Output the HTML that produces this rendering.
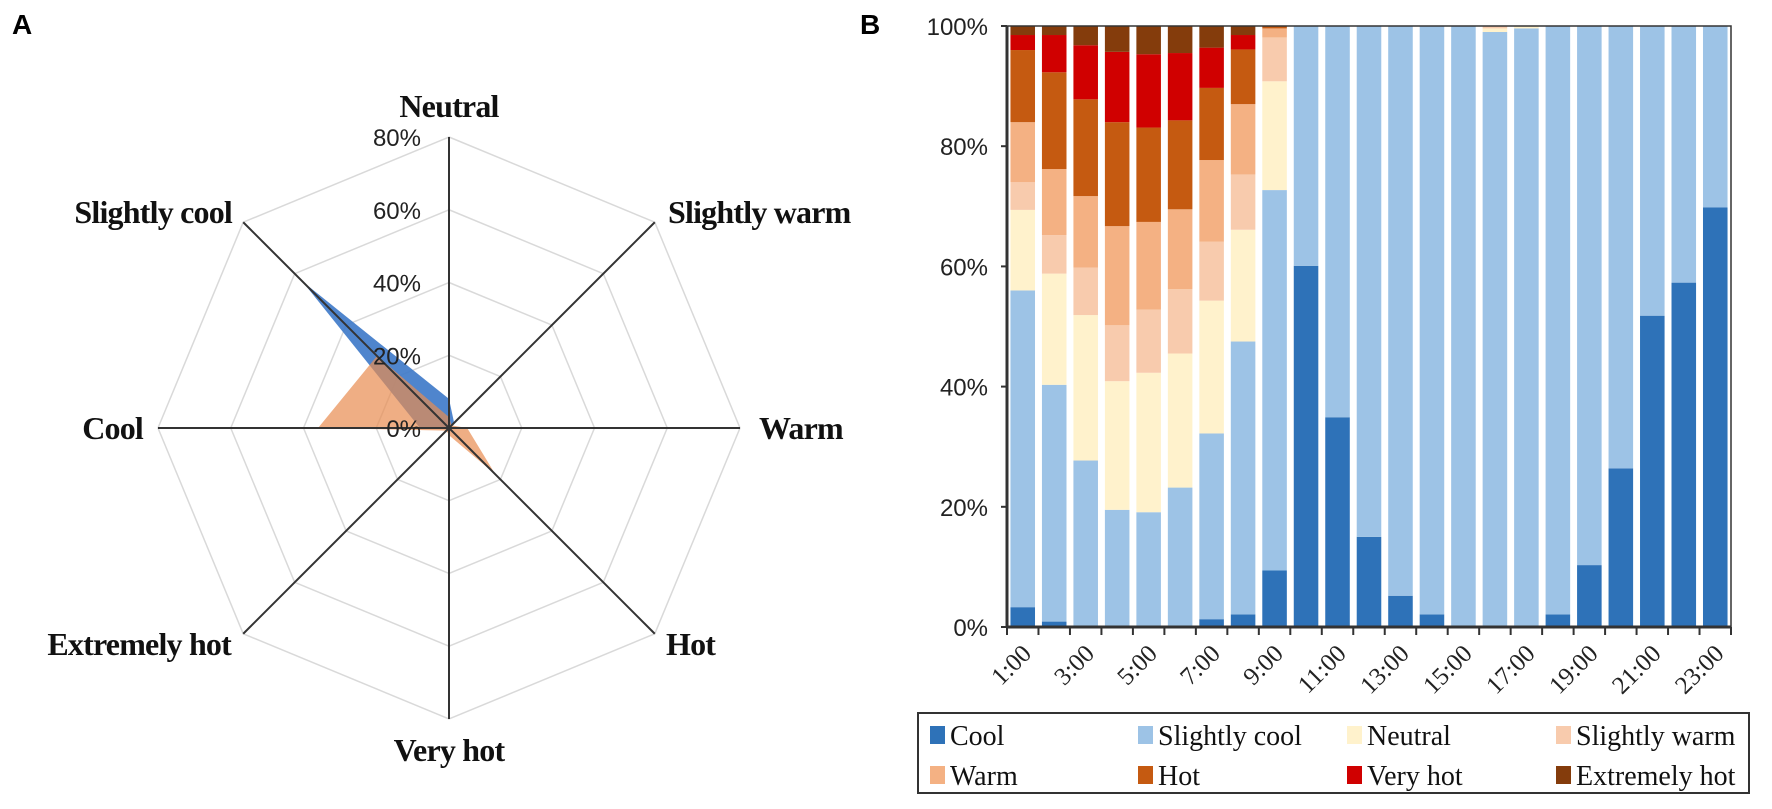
<!DOCTYPE html>
<html><head><meta charset="utf-8"><style>
html,body{margin:0;padding:0;background:#fff;}
svg{display:block;}
.lab{font-family:"Liberation Serif",serif;font-weight:bold;font-size:32px;fill:#111;letter-spacing:-0.8px;}
.tk{font-family:"Liberation Sans",sans-serif;font-size:24px;fill:#222;}
.xl{font-family:"Liberation Serif",serif;font-size:25px;fill:#222;}
.lg{font-family:"Liberation Serif",serif;font-size:28px;fill:#111;}
.pl{font-family:"Liberation Sans",sans-serif;font-weight:bold;font-size:28px;fill:#000;}
</style></head><body>
<svg id="fig" width="1772" height="809" viewBox="0 0 1772 809" xmlns="http://www.w3.org/2000/svg">
<text class="pl" x="12" y="34">A</text>
<text class="pl" x="860" y="34">B</text>
<g id="radar"></g>
<g id="bars"></g>
</svg>
<script>
const NS="http://www.w3.org/2000/svg";
function mk(tag,attrs,parent,txt){const e=document.createElementNS(NS,tag);for(const k in attrs)e.setAttribute(k,attrs[k]);if(txt!==undefined)e.textContent=txt;parent.appendChild(e);return e;}

// ---------- Radar data ----------
const radarAxes=["Neutral","Slightly warm","Warm","Hot","Very hot","Extremely hot","Cool","Slightly cool"];
const radarTicks=["0%","20%","40%","60%","80%"];
const radarBlue=[8,2,0,0,0,0,8,57];
const radarOrange=[3,1,5,18,2,1,36,28];

const R=document.getElementById('radar');
const cx=449,cy=428,rmax=291,vmax=80;
function rad(i){return -Math.PI/2+i*Math.PI/4;}
function rpt(i,v){const r=v/vmax*rmax;return [cx+r*Math.cos(rad(i)),cy+r*Math.sin(rad(i))];}
for(let k=1;k<=4;k++){
  const pts=radarAxes.map((_,i)=>rpt(i,k*20).join(',')).join(' ');
  const g=mk('polygon',{points:pts,fill:'none',stroke:'#d9d9d9','stroke-width':1.5},R);
  
  
}
const pb=mk('polygon',{points:radarBlue.map((v,i)=>rpt(i,v).join(',')).join(' '),fill:'rgba(60,120,200,0.9)'},R);


const po=mk('polygon',{points:radarOrange.map((v,i)=>rpt(i,v).join(',')).join(' '),fill:'rgba(232,140,80,0.7)'},R);


radarAxes.forEach((n,i)=>{
  const p=rpt(i,vmax);
  const l=mk('line',{x1:cx,y1:cy,x2:p[0],y2:p[1],stroke:'#333','stroke-width':2},R);
  
  
});
const labPos=[[449,117,'middle'],[668,223,'start'],[759,439,'start'],[666,655,'start'],[449,761,'middle'],[231,655,'end'],[143,439,'end'],[232,223,'end']];
radarAxes.forEach((n,i)=>{
  const t=mk('text',{class:'lab',x:labPos[i][0],y:labPos[i][1],'text-anchor':labPos[i][2]},R,n);
  
  
});
radarTicks.forEach((s,k)=>{
  const t=mk('text',{class:'tk',x:421,y:cy-k*20/vmax*rmax+9,'text-anchor':'end'},R,s);
  
  
});

// ---------- Bar data ----------
const hours=["1:00","2:00","3:00","4:00","5:00","6:00","7:00","8:00","9:00","10:00","11:00","12:00","13:00","14:00","15:00","16:00","17:00","18:00","19:00","20:00","21:00","22:00","23:00"];
const seriesNames=["Cool","Slightly cool","Neutral","Slightly warm","Warm","Hot","Very hot","Extremely hot"];
const seriesColors=["#2e72b8","#9dc3e6","#fff2cc","#f8cbad","#f4b183","#c55a11","#d00000","#843c0c"];
const cool=[3.3,0.9,0,0,0,0,1.3,2.1,9.4,60.1,34.9,15,5.2,2.1,0,0,0,2.1,10.3,26.4,51.8,57.3,69.8];
const slightlyCool=[52.7,39.4,27.7,19.5,19.1,23.2,30.9,45.4,63.3,39.9,65.1,85,94.8,97.9,100,99,99.6,97.9,89.7,73.6,48.2,42.7,30.2];
const neutral=[13.4,18.5,24.2,21.4,23.2,22.3,22.1,18.6,18.1,0,0,0,0,0,0,0.6,0.4,0,0,0,0,0,0];
const slightlyWarm=[4.6,6.4,7.9,9.3,10.5,10.7,9.8,9.2,7.3,0,0,0,0,0,0,0.4,0,0,0,0,0,0,0];
const warm=[10,11,11.9,16.5,14.6,13.3,13.6,11.7,1.5,0,0,0,0,0,0,0,0,0,0,0,0,0,0];
const hot=[12,16.1,16.1,17.3,15.7,14.8,12,9.1,0.4,0,0,0,0,0,0,0,0,0,0,0,0,0,0];
const veryHot=[2.5,6.2,9,11.7,12.2,11.2,6.7,2.4,0,0,0,0,0,0,0,0,0,0,0,0,0,0,0];
const extremelyHot=[1.5,1.5,3.2,4.3,4.7,4.5,3.6,1.5,0,0,0,0,0,0,0,0,0,0,0,0,0,0,0];
const yTicks=["0%","20%","40%","60%","80%","100%"];
const allSeries=[cool,slightlyCool,neutral,slightlyWarm,warm,hot,veryHot,extremelyHot];

const B=document.getElementById('bars');
const x0=1007,x1=1731,y0=627,y1=26;
const cw=(x1-x0)/hours.length,bw=cw*0.78;
function ys(v){return y0-(v/100)*(y0-y1);}
function xs(i){return x0+i*cw+cw/2;}
hours.forEach((h,i)=>{
  let acc=0;
  allSeries.forEach((s,j)=>{
    const v=s[i];if(v<=0)return;
    const r=mk('rect',{x:xs(i)-bw/2,y:ys(acc+v),width:bw,height:ys(acc)-ys(acc+v),fill:seriesColors[j]},B);
    
    
    acc+=v;
  });
});
const fr=mk('rect',{x:x0,y:y1,width:x1-x0,height:y0-y1,fill:'none',stroke:'#333','stroke-width':1.5},B);


const ya=mk('line',{x1:x0,y1:y1,x2:x0,y2:y0,stroke:'#333','stroke-width':3},B);


const xa=mk('line',{x1:x0,y1:y0,x2:x1,y2:y0,stroke:'#333','stroke-width':3},B);


yTicks.forEach((s,k)=>{
  const y=ys(k*20);
  const l=mk('line',{x1:x0-6,y1:y,x2:x0,y2:y,stroke:'#333','stroke-width':2},B);
  
  
  const t=mk('text',{class:'tk',x:988,y:y+9,'text-anchor':'end'},B,s);
  
  
});
for(let i=0;i<=hours.length;i++){
  const x=x0+i*cw;
  const l=mk('line',{x1:x,y1:y0,x2:x,y2:y0+8,stroke:'#333','stroke-width':2},B);
  
  
}
hours.forEach((h,i)=>{
  if(i%2)return;
  const x=xs(i)+10,y=655;
  const t=mk('text',{class:'xl',x:x,y:y,'text-anchor':'end',transform:`rotate(-45 ${x} ${y})`},B,h);
  
  
});
// legend
const lb=mk('rect',{x:918,y:713,width:831,height:80,fill:'#fff',stroke:'#333','stroke-width':2},B);


const colX=[930,1138,1347,1556],rowY=[735,775];
seriesNames.forEach((n,j)=>{
  const cx2=colX[j%4],cy2=rowY[Math.floor(j/4)];
  const sw=mk('rect',{x:cx2,y:cy2-9,width:15,height:18,fill:seriesColors[j]},B);
  
  
  const t=mk('text',{class:'lg',x:cx2+20,y:cy2+10},B,n);
  
  
});
</script>
</body></html>
